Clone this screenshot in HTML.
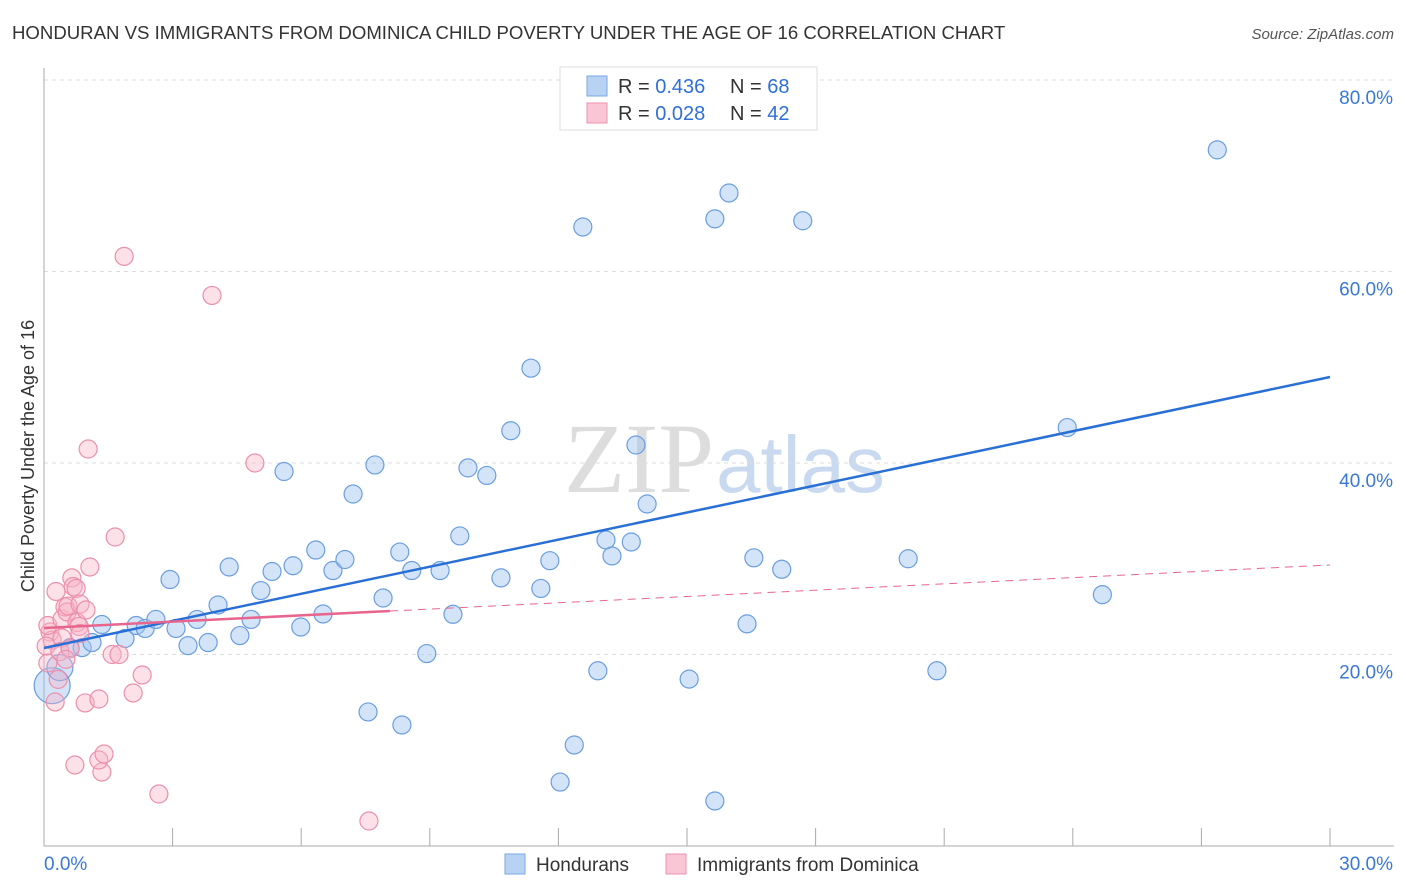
<!DOCTYPE html>
<html><head><meta charset="utf-8">
<style>
body{margin:0;background:#fff;font-family:"Liberation Sans",sans-serif;}
svg{display:block}
</style></head>
<body>
<svg id="chart" width="1406" height="892" xmlns="http://www.w3.org/2000/svg">
<text x="12" y="39" font-size="18.6" fill="#333">HONDURAN VS IMMIGRANTS FROM DOMINICA CHILD POVERTY UNDER THE AGE OF 16 CORRELATION CHART</text>
<text x="1394" y="39" font-size="15" fill="#555" font-style="italic" text-anchor="end">Source: ZipAtlas.com</text>
<text x="714" y="492" font-size="100" fill="#ddd" text-anchor="end" font-family="Liberation Serif,serif">ZIP</text>
<text x="716" y="492" font-size="80" fill="#c9daf0">atlas</text>
<g id="grid"></g>
<g id="axes"></g>
<g id="pts"></g>
<g id="lines"></g>
<text transform="translate(34,456) rotate(-90)" font-size="18" fill="#333" text-anchor="middle">Child Poverty Under the Age of 16</text>
<g>
<rect x="560" y="67" width="257" height="63" fill="#fff" stroke="#ddd"/>
<rect x="587" y="76" width="20" height="20" fill="#b8d2f4" stroke="#7aa6e6"/>
<rect x="587" y="103" width="20" height="20" fill="#f9c6d5" stroke="#ee93ae"/>
<text x="618" y="93" font-size="20" fill="#333">R = <tspan fill="#2f6fd6">0.436</tspan></text>
<text x="730" y="93" font-size="20" fill="#333">N = <tspan fill="#2f6fd6">68</tspan></text>
<text x="618" y="120" font-size="20" fill="#333">R = <tspan fill="#2f6fd6">0.028</tspan></text>
<text x="730" y="120" font-size="20" fill="#333">N = <tspan fill="#2f6fd6">42</tspan></text>
</g>
<g>
<rect x="505" y="854" width="20" height="20" fill="#b8d2f4" stroke="#7aa6e6"/>
<text x="536" y="871" font-size="19" fill="#333">Hondurans</text>
<text x="697" y="871" font-size="19" fill="#333">Immigrants from Dominica</text>
<rect x="666" y="854" width="20" height="20" fill="#f9c6d5" stroke="#ee93ae"/>
</g>
</svg>
<script>
const blueX=[0.19,0.37,0.61,0.89,1.12,1.35,1.89,2.15,2.36,2.61,2.94,3.08,3.36,3.57,3.83,4.06,4.32,4.57,4.83,5.06,5.32,5.6,5.81,5.99,6.34,6.51,6.74,7.02,7.21,7.56,7.72,7.91,8.3,8.35,8.58,8.93,9.24,9.54,9.7,9.89,10.33,10.66,10.89,11.36,11.59,11.8,12.04,12.37,12.57,12.92,13.11,13.25,13.7,13.81,14.07,15.05,15.65,15.65,15.98,16.4,16.56,17.21,17.7,20.16,20.83,23.87,24.69,27.37];
const blueY=[16.75,18.63,20.72,20.72,21.25,23.13,21.67,23.03,22.72,23.66,27.83,22.72,20.93,23.66,21.25,25.17,29.14,21.98,23.66,26.68,28.67,39.11,29.27,22.87,30.91,24.23,28.77,29.92,36.76,14.0,39.8,25.9,30.7,12.64,28.77,20.1,28.77,24.2,32.38,39.49,38.7,28.0,43.37,49.9,26.9,29.8,6.68,10.55,64.65,18.3,31.96,30.29,31.75,41.88,35.72,17.43,4.7,65.5,68.2,23.2,30.1,28.9,65.3,30.0,18.3,43.7,26.25,72.7];
const blueR=[18,13];
const pinkX=[0.14,0.19,0.09,0.28,0.33,0.42,0.42,0.49,0.54,0.56,0.65,0.68,0.75,0.72,0.77,0.82,0.84,0.98,0.96,1.07,1.03,1.28,1.35,1.28,1.4,1.59,1.66,1.75,1.87,2.08,2.29,2.68,3.92,4.92,7.58,0.09,0.05,0.26,0.37,0.61,0.84,0.51];
const pinkY=[22.35,21.51,23.03,26.58,17.4,21.72,23.7,24.96,24.44,25.06,28.0,27.1,26.9,8.46,23.34,22.93,25.27,24.65,14.94,29.14,41.46,15.35,7.73,8.98,9.61,20.0,32.27,20.0,61.58,15.98,17.86,5.43,57.5,40.0,2.61,19.11,20.88,15.04,20.3,20.6,22.2,19.5];
const yTicks=[20,40,60,80];
const yTickLabels=["20.0%","40.0%","60.0%","80.0%"];
const xTicks=[0,3,6,9,12,15,18,21,24,27,30];
const blueLine=[20.68,48.98];
const pinkLine=[22.77,29.35];
const pinkSolidEnd=8.07;
const ns="http://www.w3.org/2000/svg";
const X=v=>44+v*1286/30, Y=v=>846-v*9.575;
function el(tag,attrs,parent){const e=document.createElementNS(ns,tag);for(const k in attrs)e.setAttribute(k,attrs[k]);document.getElementById(parent).appendChild(e);return e;}
yTicks.forEach((t,i)=>{
 const g=el('line',{x1:44,x2:1394,y1:Y(t),y2:Y(t),stroke:'#ddd','stroke-dasharray':'4,4'},'grid');
 
 
 const tx=el('text',{x:1393,y:Y(t)+24,'font-size':19,fill:'#3a78d8','text-anchor':'end'},'grid');
 tx.textContent=yTickLabels[i];
 
 
});
el('line',{x1:44,x2:44,y1:68,y2:846,stroke:'#aaa'},'axes');
el('line',{x1:44,x2:1394,y1:846,y2:846,stroke:'#aaa'},'axes');
xTicks.forEach(t=>{const l=el('line',{x1:X(t),x2:X(t),y1:828,y2:846,stroke:'#aaa'},'axes');
 
 });
let a=el('text',{x:44,y:870,'font-size':19,fill:'#3a78d8'},'axes');a.textContent='0.0%';


a=el('text',{x:1393,y:870,'font-size':19,fill:'#3a78d8','text-anchor':'end'},'axes');a.textContent='30.0%';


blueX.forEach((x,i)=>{const c=el('circle',{cx:X(x),cy:Y(blueY[i]),r:blueR[i]||9,fill:'rgba(160,196,240,0.45)',stroke:'#6a9ee0','stroke-width':1.2},'pts');
 
 });
pinkX.forEach((x,i)=>{const c=el('circle',{cx:X(x),cy:Y(pinkY[i]),r:9,fill:'rgba(248,180,200,0.4)',stroke:'#ec8fab','stroke-width':1.2},'pts');
 
 });
let ln=el('line',{x1:X(0),y1:Y(blueLine[0]),x2:X(30),y2:Y(blueLine[1]),stroke:'#2a6fd6','stroke-width':2.5},'lines');


const py=v=>pinkLine[0]+(pinkLine[1]-pinkLine[0])*v/30;
ln=el('line',{x1:X(0),y1:Y(py(0)),x2:X(pinkSolidEnd),y2:Y(py(pinkSolidEnd)),stroke:'#e8658e','stroke-width':2.5},'lines');


ln=el('line',{x1:X(pinkSolidEnd),y1:Y(py(pinkSolidEnd)),x2:X(30),y2:Y(py(30)),stroke:'#e8658e','stroke-width':1,'stroke-dasharray':'8,6'},'lines');


</script>
</body></html>
